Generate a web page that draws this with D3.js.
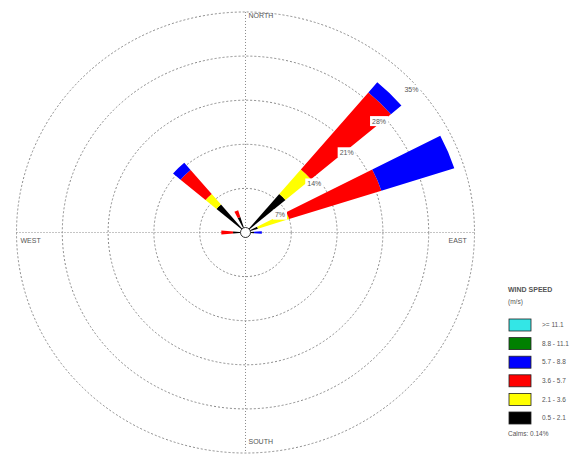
<!DOCTYPE html>
<html>
<head>
<meta charset="utf-8">
<script src="https://cdn.jsdelivr.net/npm/d3@7"></script>
<style>
  html, body { margin: 0; padding: 0; background: #fff; }
  svg { display: block; font-family: "Liberation Sans", Arial, sans-serif; }
</style>
</head>
<body>
<svg id="rose" width="574" height="456"></svg>
<script>
// Compass sectors (16 directions, clockwise from north)
const directions = ["N","NNE","NE","ENE","E","ESE","SE","SSE","S","SSW","SW","WSW","W","WNW","NW","NNW"];

// Frequency (%) per direction for each wind speed class
const speed05_21  = [0, 0, 8.0, 2.0, 1.3, 0, 0, 0, 0, 0, 0, 0, 1.9, 0, 5.8, 2.6];
const speed21_36  = [0, 0, 5.1, 5.0, 0,   0, 0, 0, 0, 0, 0, 0, 0,   0, 2.2, 0];
const speed36_57  = [0, 0, 16.0, 14.8, 0, 0, 0, 0, 0, 0, 0, 0, 1.8, 0, 5.0, 1.1];
const speed57_88  = [0, 0, 2.1, 11.7, 1.2, 0, 0, 0, 0, 0, 0, 0, 0,   0, 1.5, 0];
const speed88_111 = [0, 0, 0, 0, 0, 0, 0, 0, 0, 0, 0, 0, 0, 0, 0, 0];
const speed111up  = [0, 0, 0, 0, 0, 0, 0, 0, 0, 0, 0, 0, 0, 0, 0, 0];

// Speed classes, inner to outer
const speedClasses = ["0.5 - 2.1", "2.1 - 3.6", "3.6 - 5.7", "5.7 - 8.8", "8.8 - 11.1", ">= 11.1"];
const speedColors  = ["#000000", "#ffff00", "#ff0000", "#0000ff", "#008000", "#33e6e6"];

// Ring values (%) and compass labels
const ringValues = [7, 14, 21, 28, 35];
const compassLabels = ["NORTH", "EAST", "SOUTH", "WEST"];
const legendTitle = ["WIND SPEED", "(m/s)"];
const calmsText = "Calms: 0.14%";

const svg = d3.select("#rose");
const cx = 245.5, cy = 232.5, R = 229, ySquash = 0.963;
const r = d3.scaleLinear().domain([0, 35]).range([0, R]);
const toRad = d => d * Math.PI / 180;

// Geometry group: slightly squashed vertically
const g = svg.append("g").attr("transform", `translate(${cx},${cy}) scale(1,${ySquash})`);

// Rings
g.selectAll("circle.ring").data(ringValues).join("circle")
  .attr("class", "ring")
  .attr("r", d => r(d))
  .attr("fill", "none")
  .attr("stroke", "#8a8a8a")
  .attr("stroke-width", 1)
  .attr("stroke-dasharray", "2,2")
  .attr("vector-effect", "non-scaling-stroke");

// Axes
g.append("line").attr("x1", -R).attr("x2", R).attr("y1", 0).attr("y2", 0);
g.append("line").attr("x1", 0).attr("x2", 0).attr("y1", -R).attr("y2", R);
g.selectAll("line")
  .attr("stroke", "#8a8a8a")
  .attr("stroke-width", 1)
  .attr("stroke-dasharray", "1,2")
  .attr("vector-effect", "non-scaling-stroke");

// Petals: stacked speed classes per direction
const series = [speed05_21, speed21_36, speed36_57, speed57_88, speed88_111, speed111up];
const rows = directions.map((dir, i) => {
  const o = { dir, angle: i * 22.5 };
  speedClasses.forEach((k, j) => { o[k] = series[j][i]; });
  return o;
});
const stacked = d3.stack().keys(speedClasses)(rows);
const halfWidth = toRad(4.8);
const arc = d3.arc()
  .innerRadius(d => r(d[0]))
  .outerRadius(d => r(d[1]))
  .startAngle(d => toRad(d.data.angle) - halfWidth)
  .endAngle(d => toRad(d.data.angle) + halfWidth);

stacked.forEach((layer, j) => {
  g.append("g")
    .selectAll("path")
    .data(layer.filter(d => d[1] - d[0] > 0))
    .join("path")
    .attr("d", arc)
    .attr("fill", speedColors[j]);
});

// Calm circle
svg.append("circle")
  .attr("cx", cx).attr("cy", cy).attr("r", 5)
  .attr("fill", "#fff").attr("stroke", "#333").attr("stroke-width", 1);

// Ring labels along the 45 degree line, on white boxes
const lblG = svg.append("g");
ringValues.forEach(v => {
  const a = toRad(45);
  const x = cx + r(v) * Math.sin(a) - 3;
  const y = cy - r(v) * Math.cos(a) * ySquash + 14;
  const grp = lblG.append("g");
  const t = grp.append("text")
    .attr("x", x).attr("y", y)
    .attr("dominant-baseline", "middle")
    .attr("font-size", 7)
    .attr("fill", "#555")
    .text(v + "%");
  const bb = t.node().getBBox();
  grp.insert("rect", "text")
    .attr("x", bb.x - 2).attr("y", bb.y - 1.5)
    .attr("width", bb.width + 4).attr("height", bb.height + 3)
    .attr("fill", "#fff");
});

// Compass labels
const compassPos = {
  NORTH: [cx + 3, cy - R * ySquash + 4],
  EAST:  [cx + R - 26, cy + 9],
  SOUTH: [cx + 3, cy + R * ySquash - 11],
  WEST:  [cx - R + 4, cy + 9]
};
compassLabels.forEach(name => {
  svg.append("text")
    .attr("x", compassPos[name][0]).attr("y", compassPos[name][1])
    .attr("dominant-baseline", "middle")
    .attr("font-size", 7)
    .attr("fill", "#555")
    .text(name);
});

// Legend
const lx = 508;
legendTitle.forEach((t, i) => {
  svg.append("text")
    .attr("x", lx).attr("y", 290 + i * 12)
    .attr("dominant-baseline", "middle")
    .attr("font-size", i === 0 ? 7 : 6.5)
    .attr("font-weight", i === 0 ? "bold" : "normal")
    .attr("fill", "#555")
    .text(t);
});
const legendOrder = d3.range(speedClasses.length).reverse();
legendOrder.forEach((j, row) => {
  const y = 319 + row * 18.6;
  svg.append("rect")
    .attr("x", lx + 1).attr("y", y)
    .attr("width", 22).attr("height", 12)
    .attr("fill", speedColors[j])
    .attr("stroke", "#222").attr("stroke-width", 0.8);
  svg.append("text")
    .attr("x", lx + 34).attr("y", y + 6.5)
    .attr("dominant-baseline", "middle")
    .attr("font-size", 6.5)
    .attr("fill", "#555")
    .text(speedClasses[j]);
});
svg.append("text")
  .attr("x", lx).attr("y", 434)
  .attr("dominant-baseline", "middle")
  .attr("font-size", 6.5)
  .attr("fill", "#555")
  .text(calmsText);
</script>
</body>
</html>
